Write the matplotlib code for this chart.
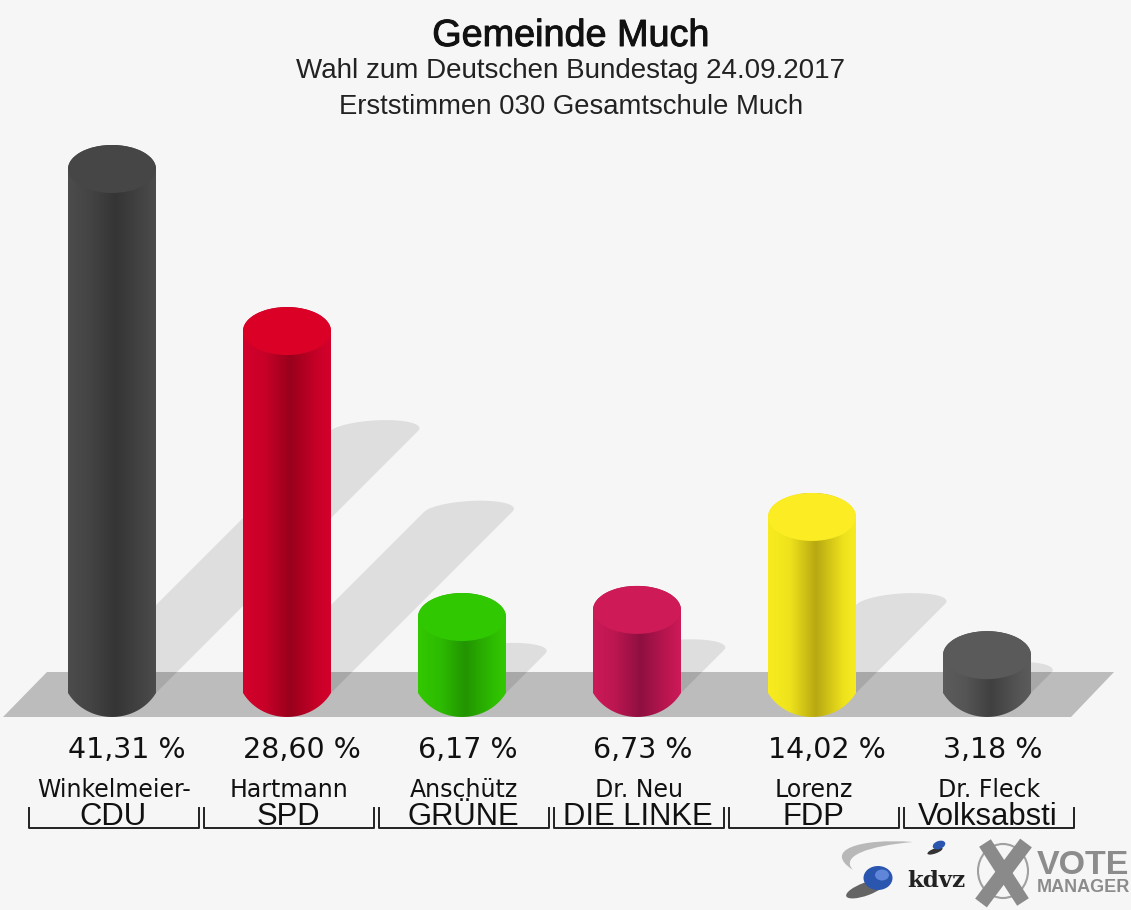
import matplotlib
matplotlib.use('Agg')
import matplotlib.pyplot as plt
import matplotlib.patheffects as pe
import numpy as np
from matplotlib.patches import Polygon, Ellipse, PathPatch
from matplotlib.path import Path
from matplotlib.colors import LinearSegmentedColormap

plt.rcParams['font.family'] = ['Liberation Sans', 'DejaVu Sans']

candidates = ['Winkelmeier-', 'Hartmann', 'Anschütz', 'Dr. Neu', 'Lorenz', 'Dr. Fleck']
parties = ['CDU', 'SPD', 'GRÜNE', 'DIE LINKE', 'FDP', 'Volksabsti']
values = [41.31, 28.60, 6.17, 6.73, 14.02, 3.18]
value_labels = ['41,31 %', '28,60 %', '6,17 %', '6,73 %', '14,02 %', '3,18 %']
# side edge, side middle, dark stripe, top cap
bar_colors = [
    ('#4c4c4c', '#444444', '#353535', '#464646'),
    ('#d4002c', '#c80028', '#98001c', '#da0026'),
    ('#33c800', '#2dbc00', '#229400', '#30c800'),
    ('#cc1a58', '#bc1650', '#8e1040', '#cf1a58'),
    ('#f8ec20', '#eee21c', '#b8a812', '#fbec24'),
    ('#5c5c5c', '#555555', '#404040', '#5a5a5a'),
]

W, H = 1131, 910
PX_X = 175.0    # pixels per category
PX_Y = 12.75    # pixels per percent
X0, Y0 = 112.0, 695.7   # pixel position of category 0, value 0
HALF_W = 44 / PX_X
CAP_H = 24 / PX_Y
BG = '#f6f6f6'


def to_data(px, py):
    return (px - X0) / PX_X, (Y0 - py) / PX_Y


def cylinder_outline(x, v, n=40):
    # bottom edge is flatter than a true ellipse, meets the sides with a corner
    u = np.linspace(-1, 1, n)
    depth = 2.7 - 47.4 * (np.sqrt(1 - (u / 1.15) ** 2) - 0.494)
    bottom = np.column_stack([x + HALF_W * u, depth / PX_Y])
    t = np.linspace(0, np.pi, n)
    top = np.column_stack([x + HALF_W * np.cos(t), v + CAP_H * np.sin(t)])
    return np.vstack([bottom, top, bottom[:1]])


def shadow_outline(x, v, n=30):
    # bar shadow falling back to the right, 45 degrees in pixels
    d = v * 6.34
    x0, y0 = to_data(X0 + x * PX_X + d, 693 - d)
    base_y = to_data(0, 693)[1]
    t = np.linspace(0, np.pi, n)
    arc = np.column_stack([x0 + HALF_W * np.cos(t) + 12 / PX_X * np.sin(t),
                           y0 + 11 / PX_Y * np.sin(t)])
    return np.vstack([[x + HALF_W, base_y], arc, [x - HALF_W, base_y]])


fig = plt.figure(figsize=(W / 100, H / 100), dpi=100, facecolor=BG)
ax = fig.add_axes([0, 0, 1, 1])
ax.set_axis_off()
xlim = (-X0 / PX_X, (W - X0) / PX_X)
ylim = ((Y0 - H) / PX_Y, Y0 / PX_Y)

positions = np.arange(len(values))

for x, v in zip(positions, values):
    ax.add_patch(Polygon(shadow_outline(x, v), closed=True, facecolor='#dedede',
                         edgecolor='none', zorder=1))

# floor band
floor_data = [to_data(px, py) for px, py in [(3, 717), (47, 672), (1114, 672), (1071, 717)]]
ax.add_patch(Polygon(floor_data, closed=True, facecolor='#bcbcbc', edgecolor='none', zorder=2))

# shadows again over the floor, a bit darker
for x, v in zip(positions, values):
    p = Polygon(shadow_outline(x, v), closed=True, facecolor='#000000', alpha=0.1,
                edgecolor='none', zorder=3)
    ax.add_patch(p)
    p.set_clip_path(Polygon(floor_data, closed=True, transform=ax.transData))

# cylinders
for x, v, cols in zip(positions, values, bar_colors):
    cmap = LinearSegmentedColormap.from_list('side', [
        (0.0, cols[0]), (0.25, cols[1]), (0.54, cols[2]), (0.85, cols[1]), (1.0, cols[0])])
    grad = np.linspace(0, 1, 256).reshape(1, -1)
    im = ax.imshow(grad, cmap=cmap, aspect='auto', zorder=4, interpolation='bilinear',
                   extent=(x - HALF_W, x + HALF_W, -2 * CAP_H, v + CAP_H))
    im.set_clip_path(Polygon(cylinder_outline(x, v), closed=True, transform=ax.transData))
    ax.add_patch(Ellipse((x, v), 2 * HALF_W, 2 * CAP_H, facecolor=cols[3],
                         edgecolor='none', zorder=5))

ax.set_xlim(xlim)
ax.set_ylim(ylim)

# overlay in pixel coordinates for texts, brackets and logos
ov = fig.add_axes([0, 0, 1, 1], facecolor='none')
ov.set_axis_off()
ov.set_xlim(0, W)
ov.set_ylim(H, 0)

title = ov.text(571, 46, 'Gemeinde Much', ha='center', va='baseline', fontsize=27.2, color='#111111')
title.set_path_effects([pe.withStroke(linewidth=0.7, foreground='#111111')])
ov.text(571, 78, 'Wahl zum Deutschen Bundestag 24.09.2017', ha='center', va='baseline',
        fontsize=20, color='#222222')
ov.text(571, 114, 'Erststimmen 030 Gesamtschule Much', ha='center', va='baseline',
        fontsize=19.8, color='#222222')

for x, name, party, lab in zip(positions, candidates, parties, value_labels):
    cx = X0 + x * PX_X
    ov.text(cx - 44, 758, lab, ha='left', va='baseline', fontsize=20.5,
            family='DejaVu Sans', color='#111111')
    ov.text(cx + 2, 797, name, ha='center', va='baseline', fontsize=17,
            family='DejaVu Sans', color='#111111')
    ov.text(cx + 1, 825, party, ha='center', va='baseline', fontsize=22.3, color='#111111')
    ov.plot([cx - 83, cx - 83, cx + 87, cx + 87], [808, 828, 828, 808], color='#222222', lw=1.4)

# kdvz logo
swoosh = Path([(913, 842), (860, 838), (822, 850), (853, 870),
               (840, 856), (868, 846), (913, 842)],
              [Path.MOVETO, Path.CURVE4, Path.CURVE4, Path.CURVE4, Path.CURVE4, Path.CURVE4, Path.CURVE4])
ov.add_patch(PathPatch(swoosh, facecolor='#b8b8b8', edgecolor='none'))
ov.add_patch(Ellipse((866, 889), 42, 13, angle=-20, facecolor='#333333', edgecolor='none', alpha=0.75))
ov.add_patch(Ellipse((878, 878), 29, 24, facecolor='#2a56b0', edgecolor='none'))
ov.add_patch(Ellipse((882, 875), 14, 11, facecolor='#5f86d8', edgecolor='none'))
ov.add_patch(Ellipse((935, 851), 16, 5, angle=-20, facecolor='#333333', edgecolor='none'))
ov.add_patch(Ellipse((939, 845), 13, 8, angle=-20, facecolor='#2a56b0', edgecolor='none'))
ov.text(936, 887, 'kdvz', ha='center', va='baseline', fontsize=16.5, fontweight='bold',
        family='DejaVu Serif', color='#222222')

# vote manager logo
ov.add_patch(Ellipse((1003, 871), 50, 54, facecolor='none', edgecolor='#a0a0a0', lw=1.5))
ov.plot([985, 1023], [843, 902], color='#8a8a8a', lw=10, solid_capstyle='butt')
ov.plot([1026, 981], [843, 903], color='#8a8a8a', lw=10.5, solid_capstyle='butt')
ov.text(1037, 874, 'VOTE', ha='left', va='baseline', fontsize=24.5, fontweight='bold', color='#8c8c8c')
ov.text(1037, 892, 'MANAGER', ha='left', va='baseline', fontsize=13, fontweight='bold', color='#8c8c8c')

fig.savefig('out.png', dpi=100, facecolor=BG)
